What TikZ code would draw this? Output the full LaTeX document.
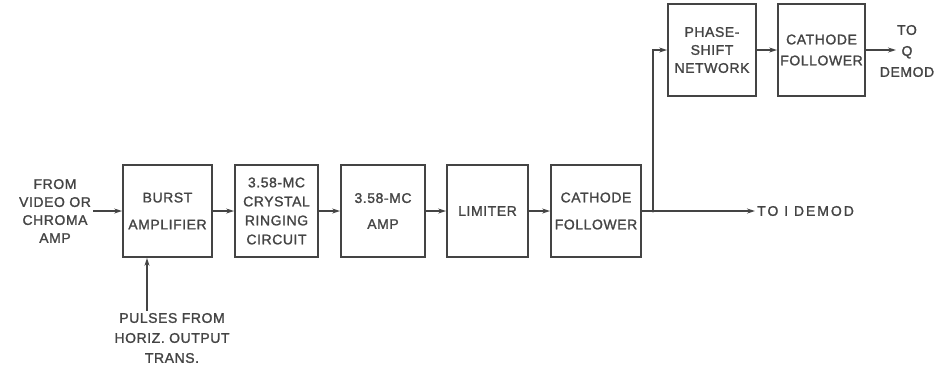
\documentclass[tikz,border=0pt]{standalone}
\usepackage{fontspec}
\setmainfont{Liberation Sans}[LetterSpace=4,FakeBold=1.4]
\usepackage{tikz}
\usetikzlibrary{arrows.meta}

\begin{document}
\begin{tikzpicture}[x=1pt,y=-1pt,>={Stealth[length=8pt,width=5pt]},
    blk/.style={draw=ink,line width=1.8pt,minimum height=92pt,inner sep=0pt,align=center,text=ink,font=\fontsize{14}{18}\selectfont},
    lab/.style={align=center,text=ink,inner sep=2pt,font=\fontsize{14}{18}\selectfont},
    wire/.style={ink,line width=1.3pt}]
    \definecolor{ink}{RGB}{68,68,68}
    \useasboundingbox (0,0) rectangle (949,368);
    % main chain
    \node[blk,minimum width=89pt] (burst) at (167.5,211) {BURST\\[9pt]AMPLIFIER};
    \node[blk,minimum width=83pt] (xtal) at (276.5,211) {3.58-MC\\[1pt]CRYSTAL\\[1pt]RINGING\\[1pt]CIRCUIT};
    \node[blk,minimum width=84pt] (amp) at (383,211) {3.58-MC\\[8pt]AMP};
    \node[blk,minimum width=81pt] (lim) at (487.5,211) {LIMITER};
    \node[blk,minimum width=90pt] (cf) at (596,211) {CATHODE\\[9pt]FOLLOWER};
    % upper branch
    \node[blk,minimum width=88pt] (phase) at (712,50) {PHASE-\\SHIFT\\NETWORK};
    \node[blk,minimum width=87pt] (cfq) at (821.5,50) {CATHODE\\[3pt]FOLLOWER};
    % inputs and outputs
    \node[lab] (src) at (55,211) {FROM\\VIDEO OR\\CHROMA\\AMP};
    \node[lab] (pulse) at (172,338) {PULSES FROM\\[2pt]HORIZ. OUTPUT\\[2pt]TRANS.};
    \node[lab] (toq) at (907,51) {TO\\[3pt]Q\\[3pt]DEMOD};
    \node[lab,anchor=west] (toi) at (755,211) {\addfontfeature{LetterSpace=14}TO I DEMOD};
    \coordinate (j) at (653,211);
    \coordinate (pin) at ([xshift=-25pt]pulse.north);
    \coordinate (qtip) at ([xshift=-11pt]toq.center);
    % connectors
    \foreach \a/\b in {src/burst,burst/xtal,xtal/amp,amp/lim,lim/cf,phase/cfq}
       \draw[wire,->] (\a) -- (\b);
    \draw[wire,->] (pin) -- (pin |- burst.south);
    \draw[wire] (cf) -- (j);
    \draw[wire,->] (j) -- (toi);
    \draw[wire,->] (j) |- (phase);
    \fill[ink] (j) circle (1.6pt);
    \draw[wire,->] (cfq.east) -- (qtip |- cfq.east);
\end{tikzpicture}
\end{document}
